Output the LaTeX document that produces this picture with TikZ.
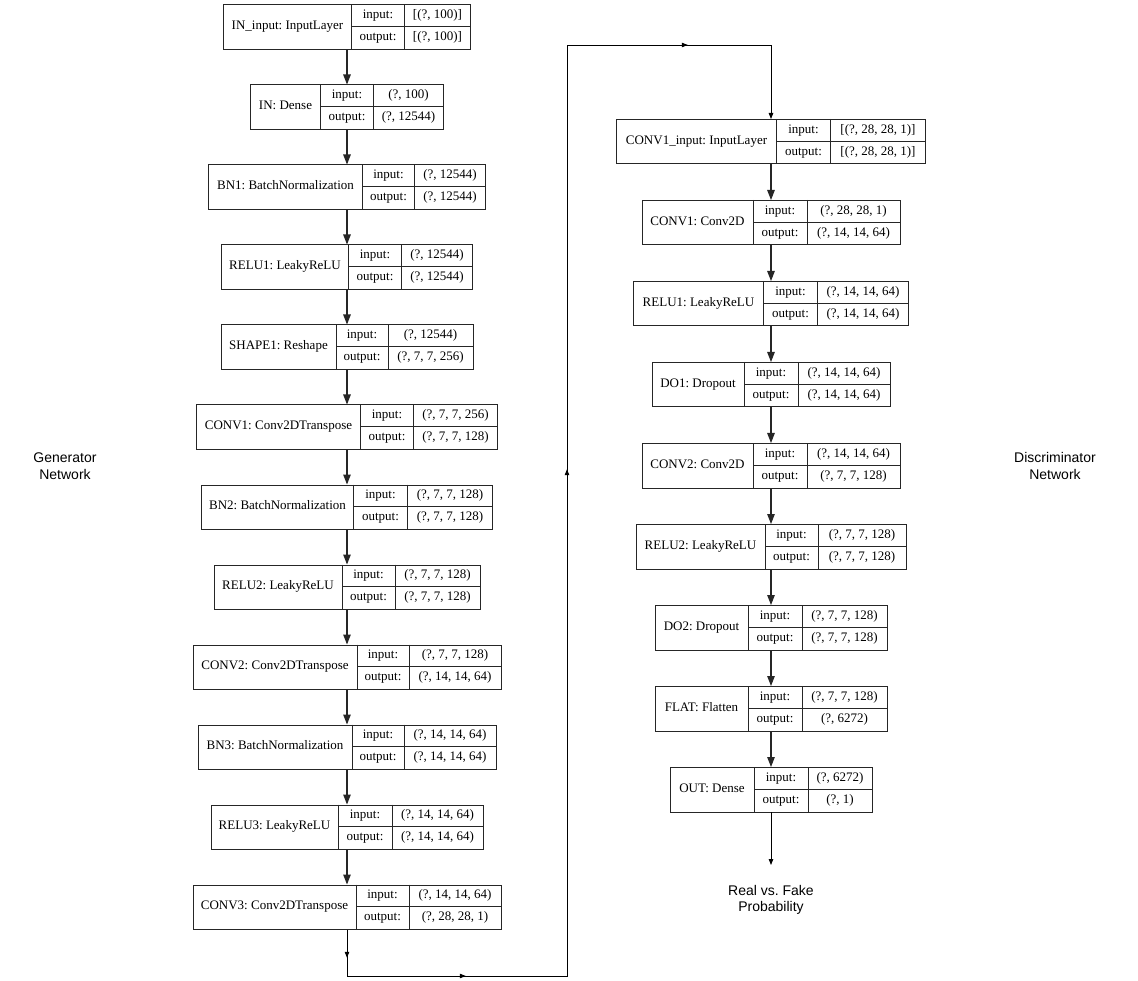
\documentclass[tikz,border=0pt]{standalone}
\usepackage{fontspec}
\setmainfont{Liberation Serif}
\newfontfamily\netfont{Liberation Sans}
\usetikzlibrary{arrows.meta, decorations.markings}
\frenchspacing

\tikzset{
  layer/.style={draw=black!85, line width=0.8pt, inner sep=0pt, minimum height=44.5pt, anchor=north},
  cell/.style={draw=black!85, line width=0.8pt},
  txt/.style={font=\fontsize{13}{15}\selectfont, inner sep=0pt, text height=9pt, text depth=3pt},
  flow/.style={draw=black!85, line width=1.1pt, -{Triangle[width=7.5pt,length=10pt]}},
  link/.style={draw=black, line width=0.8pt, -{Triangle[width=4.5pt,length=6pt]}},
  route/.style={link, postaction={decorate}, decoration={markings,
      mark=at position 28pt with {\arrow{Triangle[width=4.5pt,length=6pt]}},
      mark=at position 165pt with {\arrow{Triangle[width=4.5pt,length=6pt]}},
      mark=at position 773pt with {\arrow{Triangle[width=4.5pt,length=6pt]}},
      mark=at position 1318pt with {\arrow{Triangle[width=4.5pt,length=6pt]}}}},
  caption/.style={font=\netfont\fontsize{14}{16.5}\selectfont, align=center, inner sep=0pt}
}

% name, centre x, top y, width, first split, second split, label, input, output
\newcommand{\layerbox}[9]{%
  \pgfmathsetmacro{\bw}{#4}
  \pgfmathsetmacro{\lft}{#2-#4/2}
  \pgfmathsetmacro{\rgt}{#2+#4/2}
  \pgfmathsetmacro{\xa}{\lft+#5}
  \pgfmathsetmacro{\xb}{\lft+#6}
  \pgfmathsetmacro{\ymid}{#3+22.25}
  \node[layer, minimum width=\bw pt] (#1) at (#2,#3) {};
  \draw[cell] (\xa,#3) -- (\xa,{#3+44.5}) (\xb,#3) -- (\xb,{#3+44.5}) (\xa,\ymid) -- (\rgt,\ymid);
  \node[txt] at ({(\lft+\xa)/2},\ymid) {#7};
  \node[txt] at ({(\xa+\xb)/2},{#3+11.1}) {input:};
  \node[txt] at ({(\xb+\rgt)/2},{#3+11.1}) {#8};
  \node[txt] at ({(\xa+\xb)/2},{#3+33.4}) {output:};
  \node[txt] at ({(\xb+\rgt)/2},{#3+33.4}) {#9};
}

\begin{document}
\begin{tikzpicture}[x=1pt, y=-1pt]
  \useasboundingbox (0,0) rectangle (1138,981);

  % generator
  \foreach \w/\sa/\sb/\lab/\vin/\vout [count=\i] in {
      247/128/181/{IN\_input: InputLayer}/{[(?, 100)]}/{[(?, 100)]},
      193/70/123/{IN: Dense}/{(?, 100)}/{(?, 12544)},
      277/154/206/{BN1: BatchNormalization}/{(?, 12544)}/{(?, 12544)},
      251/127/180/{RELU1: LeakyReLU}/{(?, 12544)}/{(?, 12544)},
      252/115/167/{SHAPE1: Reshape}/{(?, 12544)}/{(?, 7, 7, 256)},
      301/164/217/{CONV1: Conv2DTranspose}/{(?, 7, 7, 256)}/{(?, 7, 7, 128)},
      291/152/206/{BN2: BatchNormalization}/{(?, 7, 7, 128)}/{(?, 7, 7, 128)},
      266/128/181/{RELU2: LeakyReLU}/{(?, 7, 7, 128)}/{(?, 7, 7, 128)},
      308/164/216/{CONV2: Conv2DTranspose}/{(?, 7, 7, 128)}/{(?, 14, 14, 64)},
      298/154/206/{BN3: BatchNormalization}/{(?, 14, 14, 64)}/{(?, 14, 14, 64)},
      272/127/181/{RELU3: LeakyReLU}/{(?, 14, 14, 64)}/{(?, 14, 14, 64)},
      308/163/216/{CONV3: Conv2DTranspose}/{(?, 14, 14, 64)}/{(?, 28, 28, 1)}} {
    \pgfmathsetmacro{\ytop}{4.5+80*(\i-1)}
    \layerbox{g\i}{347}{\ytop}{\w}{\sa}{\sb}{\lab}{\vin}{\vout}
  }
  \foreach \i [evaluate=\i as \j using int(\i+1)] in {1,...,11}
    \draw[flow] (g\i.south) -- (g\j.north);

  % discriminator
  \foreach \w/\sa/\sb/\lab/\vin/\vout [count=\i] in {
      309/160/214/{CONV1\_input: InputLayer}/{[(?, 28, 28, 1)]}/{[(?, 28, 28, 1)]},
      258/111/165/{CONV1: Conv2D}/{(?, 28, 28, 1)}/{(?, 14, 14, 64)},
      275/130/184/{RELU1: LeakyReLU}/{(?, 14, 14, 64)}/{(?, 14, 14, 64)},
      238/92/146/{DO1: Dropout}/{(?, 14, 14, 64)}/{(?, 14, 14, 64)},
      258/111/165/{CONV2: Conv2D}/{(?, 14, 14, 64)}/{(?, 7, 7, 128)},
      270/129/182/{RELU2: LeakyReLU}/{(?, 7, 7, 128)}/{(?, 7, 7, 128)},
      232/93/147/{DO2: Dropout}/{(?, 7, 7, 128)}/{(?, 7, 7, 128)},
      232/93/147/{FLAT: Flatten}/{(?, 7, 7, 128)}/{(?, 6272)},
      202/84/138/{OUT: Dense}/{(?, 6272)}/{(?, 1)}} {
    \pgfmathsetmacro{\ytop}{119+81*(\i-1)}
    \layerbox{d\i}{771}{\ytop}{\w}{\sa}{\sb}{\lab}{\vin}{\vout}
  }
  \foreach \i [evaluate=\i as \j using int(\i+1)] in {1,...,8}
    \draw[flow] (d\i.south) -- (d\j.north);

  % generator output into discriminator
  \coordinate (b1) at (347,976);
  \coordinate (b2) at (567,976);
  \coordinate (b3) at (567,45);
  \coordinate (b4) at (771,45);
  \draw[route] (g12.south) -- (b1) -- (b2) -- (b3) -- (b4) -- (d1.north);

  \node[caption] (gen) at (65,466) {Generator\\Network};
  \node[caption] (dis) at (1055,466) {Discriminator\\Network};
  \node[caption] (prob) at (771,900) {Real vs. Fake\\Probability};
  \coordinate (pend) at (771,865);
  \draw[link] (d9.south) -- (pend);
\end{tikzpicture}
\end{document}
